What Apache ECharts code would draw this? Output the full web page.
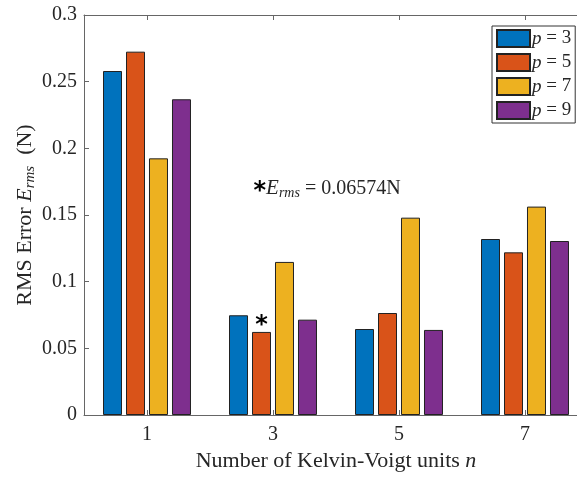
<!DOCTYPE html>
<html>
<head>
<meta charset="utf-8">
<script src="https://cdn.jsdelivr.net/npm/echarts@6/dist/echarts.min.js"></script>
<style>
  html, body { margin: 0; padding: 0; background: #fff; overflow: hidden; }
  /* the original figure is cropped on the right, so the chart is a little wider than the window */
  #chart { width: 588px; height: 477px; }
</style>
</head>
<body>
<div id="chart"></div>
<script>
// data
var categories = ["1", "3", "5", "7"];
var pValues = [3, 5, 7, 9];
var errP3 = [0.258, 0.0748, 0.0645, 0.132];
var errP5 = [0.2725, 0.0623, 0.0765, 0.122];
var errP7 = [0.1925, 0.1148, 0.148, 0.1563];
var errP9 = [0.2368, 0.0715, 0.0638, 0.1305];
var yMin = 0, yMax = 0.3, yStep = 0.05;
var bestText = " = 0.06574N";
var noteLevel = 0.17; // height of the E_rms note

var colors = ["#0072BD", "#D95319", "#EDB120", "#7E2F8E"];
var serif = "Liberation Serif";
var txt = "#262626";
var axisGray = "#666";

var chart = echarts.init(document.getElementById("chart"));

function barSeries(i, data) {
	return {
		name: "p = " + pValues[i],
		type: "bar",
		data: data,
		barWidth: 19,
		barGap: "21%",
		itemStyle: { color: colors[i], borderColor: "#222", borderWidth: 1 }
	};
}

var series = [
	barSeries(0, errP3),
	barSeries(1, errP5),
	barSeries(2, errP7),
	barSeries(3, errP9)
];

// asterisks on the smallest p = 5 bar
series[1].markPoint = {
	symbol: "circle",
	symbolSize: 1,
	itemStyle: { color: "rgba(0,0,0,0)" },
	data: [
		{
			type: "min",
			label: {
				show: true,
				position: "inside",
				offset: [0, -6],
				formatter: "*",
				fontFamily: "DejaVu Sans",
				fontWeight: "bold",
				fontSize: 24,
				color: "#000"
			}
		},
		{
			coord: ["3", noteLevel],
			label: {
				show: true,
				position: "inside",
				align: "left",
				verticalAlign: "middle",
				offset: [-8, 0],
				formatter: "{a|*}{e|E}{s|rms}{t|" + bestText + "}",
				rich: {
					a: { fontFamily: "DejaVu Sans", fontWeight: "bold", fontSize: 24, color: "#000", padding: [6, 0, 0, 0] },
					e: { fontFamily: serif, fontStyle: "italic", fontSize: 21, color: txt },
					s: { fontFamily: serif, fontStyle: "italic", fontSize: 14, color: txt, padding: [10, 0, 0, 0] },
					t: { fontFamily: serif, fontSize: 20, color: txt }
				}
			}
		}
	]
};

var option = {
	animation: false,
	backgroundColor: "#fff",
	grid: {
		left: 84,
		top: 15,
		right: 0,
		height: 400,
		containLabel: false
	},
	legend: {
		orient: "vertical",
		left: 492,
		top: 26,
		padding: [3, 4, 3, 4],
		itemWidth: 33,
		itemHeight: 17,
		itemGap: 5,
		icon: "rect",
		backgroundColor: "#fff",
		borderColor: "#333",
		borderWidth: 1,
		borderRadius: 0,
		formatter: function (name) {
			return "{i|p} = " + name.split("= ")[1];
		},
		textStyle: {
			fontFamily: serif,
			fontSize: 19,
			color: txt,
			padding: [0, 0, 0, -3],
			rich: { i: { fontFamily: serif, fontStyle: "italic", fontSize: 19, color: txt } }
		}
	},
	xAxis: [
		{
			type: "category",
			data: categories,
			position: "bottom",
			axisLine: { show: true, lineStyle: { color: axisGray } },
			axisTick: { show: true, inside: true, alignWithLabel: true, length: 5, lineStyle: { color: axisGray } },
			axisLabel: { fontFamily: serif, fontSize: 20, color: txt, margin: 10 },
			name: "Number of Kelvin-Voigt units {n|n}",
			nameLocation: "middle",
			nameGap: 35,
			nameTextStyle: {
				fontFamily: serif,
				fontSize: 22,
				color: txt,
				rich: { n: { fontFamily: serif, fontStyle: "italic", fontSize: 22, color: txt } }
			}
		},
		{
			type: "category",
			data: categories,
			position: "top",
			axisLine: { show: true, lineStyle: { color: axisGray } },
			axisTick: { show: true, inside: true, alignWithLabel: true, length: 5, lineStyle: { color: axisGray } },
			axisLabel: { show: false }
		}
	],
	yAxis: {
		type: "value",
		min: yMin,
		max: yMax,
		interval: yStep,
		axisLine: { show: true, lineStyle: { color: axisGray } },
		axisTick: { show: true, inside: true, length: 5, lineStyle: { color: axisGray } },
		splitLine: { show: false },
		axisLabel: { fontFamily: serif, fontSize: 20, color: txt, margin: 7 },
		name: "RMS Error {e|E}{s|rms}  (N)",
		nameLocation: "middle",
		nameGap: 46,
		nameMoveOverlap: false,
		nameTextStyle: {
			fontFamily: serif,
			fontSize: 22,
			color: txt,
			rich: {
				e: { fontFamily: serif, fontStyle: "italic", fontSize: 22, color: txt },
				s: { fontFamily: serif, fontStyle: "italic", fontSize: 15, color: txt, padding: [11, 0, 0, 0] }
			}
		}
	},
	series: series
};

chart.setOption(option);
</script>
</body>
</html>
